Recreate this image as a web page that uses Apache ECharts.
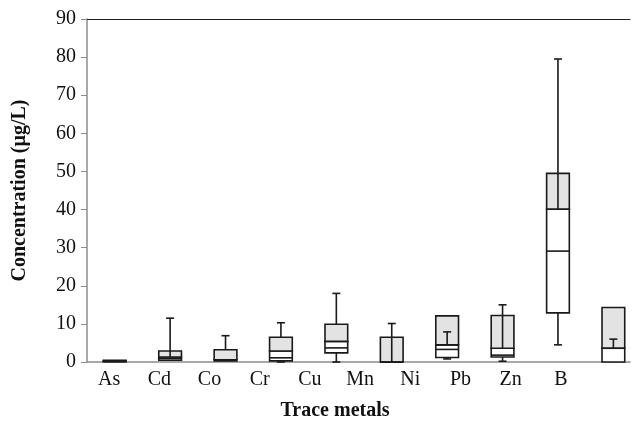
<!DOCTYPE html>
<html>
<head>
<meta charset="utf-8">
<script src="https://cdn.jsdelivr.net/npm/echarts@6/dist/echarts.min.js"></script>
<style>
html,body{margin:0;padding:0;background:#fff;}
#main{width:639px;height:426px;}
</style>
</head>
<body>
<div id="main"></div>
<script>
var categories = ['As','Cd','Co','Cr','Cu','Mn','Ni','Pb','Zn','B'];
// box: bottom, first inner line, second inner line (top of white part), top of grey part
var boxLow   = [0.05, 0.45, 0.3, 0.3, 2.4, 0, 1.2, 1.3, 12.9, 0];
var lineA    = [0.15, 0.9, 0.4, 1.1, 3.7, 0, 3.3, 1.8, 29.1, 3.6];
var lineB    = [0.3, 1.3, 0.6, 2.9, 5.4, 0, 4.5, 3.6, 40.1, 3.6];
var boxHigh  = [0.45, 2.9, 3.2, 6.5, 9.9, 6.5, 12.1, 12.2, 49.5, 14.3];
// whiskers
var upFrom   = [null, 1.3, 3.2, 6.5, 9.9, 0, 4.5, 3.6, 40.1, 3.6];
var upTo     = [null, 11.5, 6.9, 10.3, 18.0, 10.1, 7.9, 15.0, 79.5, 6.0];
var lowTo    = [null, null, null, 0, 0, null, 0.8, 0.2, 4.5, null];
var yTicks = [0,10,20,30,40,50,60,70,80,90];

var rows = [];
for (var i = 0; i < categories.length; i++) {
	rows.push([i, boxLow[i], lineA[i], lineB[i], boxHigh[i], upFrom[i], upTo[i], lowTo[i]]);
}

var dark = '#1a1a1a';
function renderBox(params, api) {
	var x = api.value(0);
	var band = api.size([1, 0])[0];
	var bw = band * 0.41, cw = 8;
	var kids = [];
	var pLow = api.coord([x, api.value(1)]);
	var pA = api.coord([x, api.value(2)]);
	var pB = api.coord([x, api.value(3)]);
	var pHigh = api.coord([x, api.value(4)]);
	var cx = pLow[0];
	var st = {stroke: dark, lineWidth: 1.6};
	// white part
	kids.push({type:'rect', shape:{x:cx-bw/2, y:pB[1], width:bw, height:pLow[1]-pB[1]},
		style:{fill:'#ffffff', stroke:dark, lineWidth:1.6}});
	// grey part
	kids.push({type:'rect', shape:{x:cx-bw/2, y:pHigh[1], width:bw, height:pB[1]-pHigh[1]},
		style:{fill:'#e3e3e3', stroke:dark, lineWidth:1.6}});
	kids.push({type:'line', shape:{x1:cx-bw/2, y1:pA[1], x2:cx+bw/2, y2:pA[1]}, style:st});
	var uf = api.value(5), ut = api.value(6), lt = api.value(7);
	if (!isNaN(ut) && ut !== null) {
		var p1 = api.coord([x, uf]), p2 = api.coord([x, ut]);
		kids.push({type:'line', shape:{x1:cx, y1:p1[1], x2:cx, y2:p2[1]}, style:st});
		kids.push({type:'line', shape:{x1:cx-cw/2, y1:p2[1], x2:cx+cw/2, y2:p2[1]}, style:st});
	}
	if (!isNaN(lt) && lt !== null) {
		var p3 = api.coord([x, lt]);
		kids.push({type:'line', shape:{x1:cx, y1:pLow[1], x2:cx, y2:p3[1]}, style:st});
		kids.push({type:'line', shape:{x1:cx-cw/2, y1:p3[1], x2:cx+cw/2, y2:p3[1]}, style:st});
	}
	return {type:'group', children:kids};
}

var serif = 'Liberation Serif';
var myChart = echarts.init(document.getElementById('main'));
var option = {
	animation: false,
	backgroundColor: '#fff',
	grid: [
		{left:87, right:9, top:19, bottom:64},
		{left:84, right:53, top:19, bottom:64}
	],
	xAxis: [
		{type:'value', gridIndex:0, min:-0.5, max:9.3, position:'bottom',
			axisLine:{show:true, onZero:false, lineStyle:{color:'#8c8c8c', width:1.5}},
			axisTick:{show:false}, axisLabel:{show:false}, splitLine:{show:false}},
		{type:'value', gridIndex:0, min:-0.5, max:9.3, position:'top',
			axisLine:{show:true, onZero:false, lineStyle:{color:'#222', width:1.2}},
			axisTick:{show:false}, axisLabel:{show:false}, splitLine:{show:false}},
		{type:'category', gridIndex:1, data:categories, position:'bottom',
			axisLine:{show:false}, axisTick:{show:false},
			axisLabel:{margin:13, fontFamily:serif, fontSize:20, color:'#111'},
			name:'Trace metals', nameLocation:'middle', nameGap:44,
			nameTextStyle:{fontFamily:serif, fontSize:20, fontWeight:'bold', color:'#111'}}
	],
	yAxis: [
		{type:'value', gridIndex:0, min:0, max:90, interval:10,
			axisLine:{show:true, onZero:false, lineStyle:{color:'#8c8c8c', width:1.5}},
			axisTick:{show:true, length:6, lineStyle:{color:'#8c8c8c'}},
			axisLabel:{margin:11, fontFamily:serif, fontSize:20, color:'#111',
				formatter:function(v){ return yTicks.indexOf(v) >= 0 ? String(v) : ''; }},
			splitLine:{show:false},
			name:'Concentration (µg/L)', nameLocation:'middle', nameGap:57,
			nameTextStyle:{fontFamily:serif, fontSize:20, fontWeight:'bold', color:'#111'}},
		{type:'value', gridIndex:1, show:false, min:0, max:90}
	],
	series: [
		{type:'custom', xAxisIndex:0, yAxisIndex:0, renderItem:renderBox, data:rows,
			encode:{x:0, y:[1,2,3,4,5,6,7]}}
	]
};
myChart.setOption(option);
</script>
</body>
</html>
